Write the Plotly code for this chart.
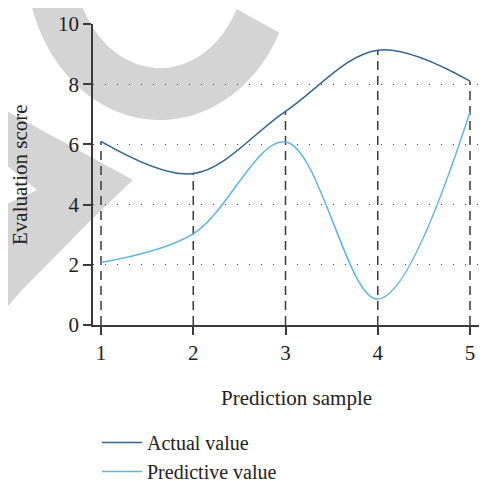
import numpy as np
import plotly.graph_objects as go

# ---- data ----
samples = [1, 2, 3, 4, 5]
actual_value = [6.1, 5.03, 7.1, 9.13, 8.1]
predictive_value = [2.08, 3.03, 6.08, 0.86, 7.08]
x_ticks = [1, 2, 3, 4, 5]
y_ticks = [0, 2, 4, 6, 8, 10]

# ---- layout geometry ----
# the page body has an 8px margin, so the figure is drawn 8px smaller and
# all positions below are given in window pixels, then shifted.
OFF = 8
WIN_W, WIN_H = 487, 481
W, H = WIN_W - OFF, WIN_H - OFF
# plot area in window pixels
PX0, PX1, PY0, PY1 = 93, 487, 24, 325
L, R, T, B = PX0 - OFF, WIN_W - PX1, PY0 - OFF, WIN_H - PY1
PW, PH = PX1 - PX0, PY1 - PY0


def px2paper(px, py):
    return (px - PX0) / PW, (PY1 - py) / PH


def path_from_pixels(pts):
    s = []
    for i, (px, py) in enumerate(pts):
        x, y = px2paper(px, py)
        s.append(("M" if i == 0 else "L") + f"{x:.5f},{y:.5f}")
    return " ".join(s) + " Z"


# watermark-like decorative shapes
cx, cy = 160, -40
ts = np.radians(np.linspace(27, 200, 80))
outer = [(cx + 134 * np.cos(t), cy + 160 * np.sin(t)) for t in ts]
inner = [(cx + 86 * np.cos(t), cy + 108 * np.sin(t)) for t in ts[::-1]]
arc_path = path_from_pixels(outer + inner)
band_path = path_from_pixels([(-10, 102), (133, 180), (93, 218), (22, 290), (-10, 327),
                              (-10, 212), (37, 190), (-10, 152)])

fig = go.Figure()

# vertical dashed drop lines from 0 to the higher of the two series
dx, dy = [], []
for s, a, p in zip(samples, actual_value, predictive_value):
    dx += [s, s, None]
    dy += [0, max(a, p), None]
fig.add_trace(go.Scatter(x=dx, y=dy, mode="lines", showlegend=False, hoverinfo="skip",
                         line=dict(color="#3a3a3a", width=1.5, dash="9px,6px")))

fig.add_trace(go.Scatter(x=samples, y=actual_value, mode="lines", name="Actual value",
                         line=dict(color="#2f6591", width=1.5, shape="spline", smoothing=1)))
fig.add_trace(go.Scatter(x=samples, y=predictive_value, mode="lines", name="Predictive value",
                         line=dict(color="#5cb4e2", width=1.5, shape="spline", smoothing=1)))

font_family = "Liberation Serif"
FS = 21
LFS = 20
lx, ly = px2paper(97, 423)

fig.update_layout(
    width=W, height=H,
    margin=dict(l=L, r=R, t=T, b=B, pad=0, autoexpand=False),
    paper_bgcolor="white", plot_bgcolor="white",
    font=dict(family=font_family, size=FS, color="#222222"),
    showlegend=True,
    legend=dict(x=lx, y=ly, xanchor="left", yanchor="top", bgcolor="rgba(0,0,0,0)",
                font=dict(size=LFS, family=font_family, color="#222222"),
                traceorder="normal", itemwidth=40),
    shapes=[
        dict(type="path", xref="paper", yref="paper", path=arc_path,
             fillcolor="#d4d4d4", line=dict(width=0), layer="below"),
        dict(type="path", xref="paper", yref="paper", path=band_path,
             fillcolor="#d4d4d4", line=dict(width=0), layer="below"),
    ],
    annotations=[
        dict(text="Prediction sample", xref="paper", yref="paper",
             x=px2paper(296, 398)[0], y=px2paper(296, 398)[1],
             xanchor="center", yanchor="middle", showarrow=False,
             font=dict(size=FS, family=font_family, color="#222222")),
        dict(text="Evaluation score", xref="paper", yref="paper",
             x=px2paper(20, 175)[0], y=px2paper(20, 175)[1], textangle=-90,
             xanchor="center", yanchor="middle", showarrow=False,
             font=dict(size=FS, family=font_family, color="#222222")),
    ],
)

fig.update_xaxes(range=[1 - 8 / 92.25, 5 + 17 / 92.25], tickvals=x_ticks, automargin=False,
                 showline=True, linecolor="#3a3a3a", linewidth=1.5,
                 ticks="outside", ticklen=8, tickwidth=1.5, tickcolor="#3a3a3a",
                 showgrid=False, zeroline=False, fixedrange=True)
fig.update_yaxes(range=[0, 10], tickvals=y_ticks, automargin=False,
                 showline=True, linecolor="#3a3a3a", linewidth=1.5,
                 ticks="outside", ticklen=8, tickwidth=1.5, tickcolor="#3a3a3a",
                 showgrid=True, gridcolor="#444444", gridwidth=1.2, griddash="1.2px,10.8px",
                 zeroline=False, fixedrange=True)

fig.write_html("out.html")
